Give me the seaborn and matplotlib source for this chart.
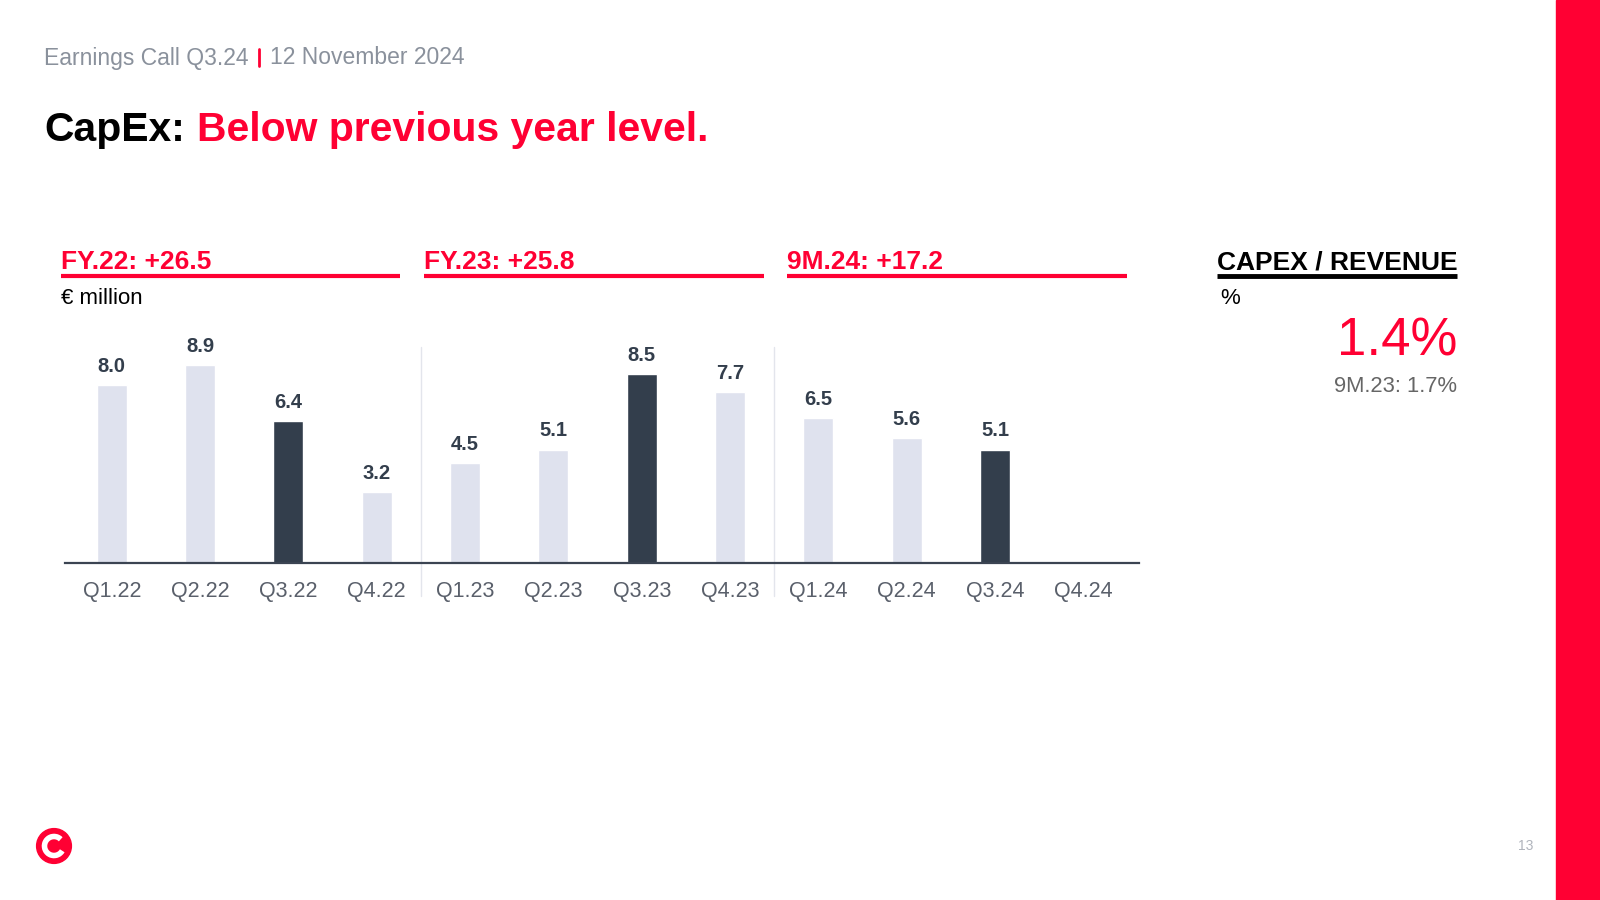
import pandas as pd
import matplotlib.pyplot as plt
import matplotlib.patches as mpatches
from matplotlib.lines import Line2D
import seaborn as sns

# chart values
quarters = ['Q1.22', 'Q2.22', 'Q3.22', 'Q4.22', 'Q1.23', 'Q2.23', 'Q3.23', 'Q4.23',
            'Q1.24', 'Q2.24', 'Q3.24', 'Q4.24']
capex = [8.0, 8.9, 6.4, 3.2, 4.5, 5.1, 8.5, 7.7, 6.5, 5.6, 5.1]
group_labels = ['FY.22: +26.5', 'FY.23: +25.8', '9M.24: +17.2']
ratio_now = '1.4%'
ratio_prev = '9M.23: 1.7%'

RED = '#ff0033'
DARK = '#333e4c'
LIGHT = '#dfe2ee'

sns.set_style('white')
plt.rcParams['font.family'] = ['Liberation Sans', 'DejaVu Sans']
plt.rcParams['text.color'] = 'black'

df = pd.DataFrame({'quarter': quarters[:len(capex)], 'capex': capex})
bar_colors = {q: (DARK if q.startswith('Q3') else LIGHT) for q in quarters}

fig = plt.figure(figsize=(16, 9), dpi=100)


def fx(px):
    return px / 1600


def fy(py):
    return 1 - py / 900


# main bar chart
ax = fig.add_axes([fx(65), fy(563), fx(1139) - fx(65), 222.5 / 900])
sns.barplot(data=df, x='quarter', y='capex', hue='quarter', order=quarters,
            palette=bar_colors, legend=False, width=0.34, saturation=1, ax=ax)
ax.set_xlim(-0.53, 11.63)
ax.set_ylim(0, 10)
for c in ax.containers:
    ax.bar_label(c, fmt='%.1f', padding=6.5, fontsize=14.5, fontweight='bold', color=DARK)
ax.set_xlabel('')
ax.set_ylabel('')
ax.set_yticks([])
ax.tick_params(axis='x', length=0, pad=13, labelsize=15.5, labelcolor='#5a606b')
for s in ['top', 'right', 'left']:
    ax.spines[s].set_visible(False)
ax.spines['bottom'].set_color('#3b4452')
ax.spines['bottom'].set_linewidth(1.6)
for xv in [3.5, 7.5]:
    ax.axvline(xv, ymin=-0.15, ymax=0.97, color='#e3e5ec', lw=1, clip_on=False, zorder=0)

# group headers with red underline
for label, x0, x1 in zip(group_labels, [61, 424, 787], [400, 764, 1127]):
    fig.text(fx(x0), fy(262), label, color=RED, fontsize=19, fontweight='bold', va='center')
    fig.add_artist(Line2D([fx(x0), fx(x1)], [fy(276), fy(276)], color=RED, lw=3,
                          solid_capstyle='butt'))
fig.text(fx(61), fy(299), '€ million', fontsize=16, color='black', va='center')

# header and title
fig.text(fx(44), fy(58), 'Earnings Call Q3.24', fontsize=16.5, color='#8a919c', va='center')
fig.add_artist(Line2D([fx(259), fx(259)], [fy(49), fy(66)], color=RED, lw=2))
fig.text(fx(270), fy(58), '12 November 2024', fontsize=16.5, color='#8a919c', va='center')
fig.text(fx(44), fy(130), 'CapEx:', fontsize=29.4, fontweight='bold', color='black', va='center')
fig.text(fx(197), fy(130), 'Below previous year level.', fontsize=29.4, fontweight='bold',
         color=RED, va='center')

# right panel: capex / revenue
fig.text(fx(1217), fy(262), 'CAPEX / REVENUE', fontsize=19, fontweight='bold',
         color='black', va='center')
fig.add_artist(Line2D([fx(1217), fx(1457)], [fy(276), fy(276)], color='black', lw=3.5,
                      solid_capstyle='butt'))
fig.text(fx(1220), fy(299), '%', fontsize=16, color='black', va='center')
fig.text(fx(1457), fy(342), ratio_now, fontsize=38, color=RED, ha='right', va='center')
fig.text(fx(1457), fy(386), ratio_prev, fontsize=15.8, color='#666666', ha='right', va='center')

# side stripe, page number, logo
fig.add_artist(mpatches.Rectangle((fx(1556), 0), 1 - fx(1556), 1, color=RED,
                                  transform=fig.transFigure))
fig.text(fx(1526), fy(846), '13', fontsize=10, color='#b0b4bc', ha='center', va='center')
lax = fig.add_axes([fx(34), fy(866), 40 / 1600, 40 / 900])
lax.set_xlim(-1, 1)
lax.set_ylim(-1, 1)
lax.set_aspect('equal')
lax.axis('off')
lax.add_patch(mpatches.Circle((0, 0), 0.87, color=RED))
lax.add_patch(mpatches.Arc((0, 0), 0.95, 0.95, theta1=45, theta2=330, color='white', lw=4))

fig.savefig('out.png', dpi=100)
